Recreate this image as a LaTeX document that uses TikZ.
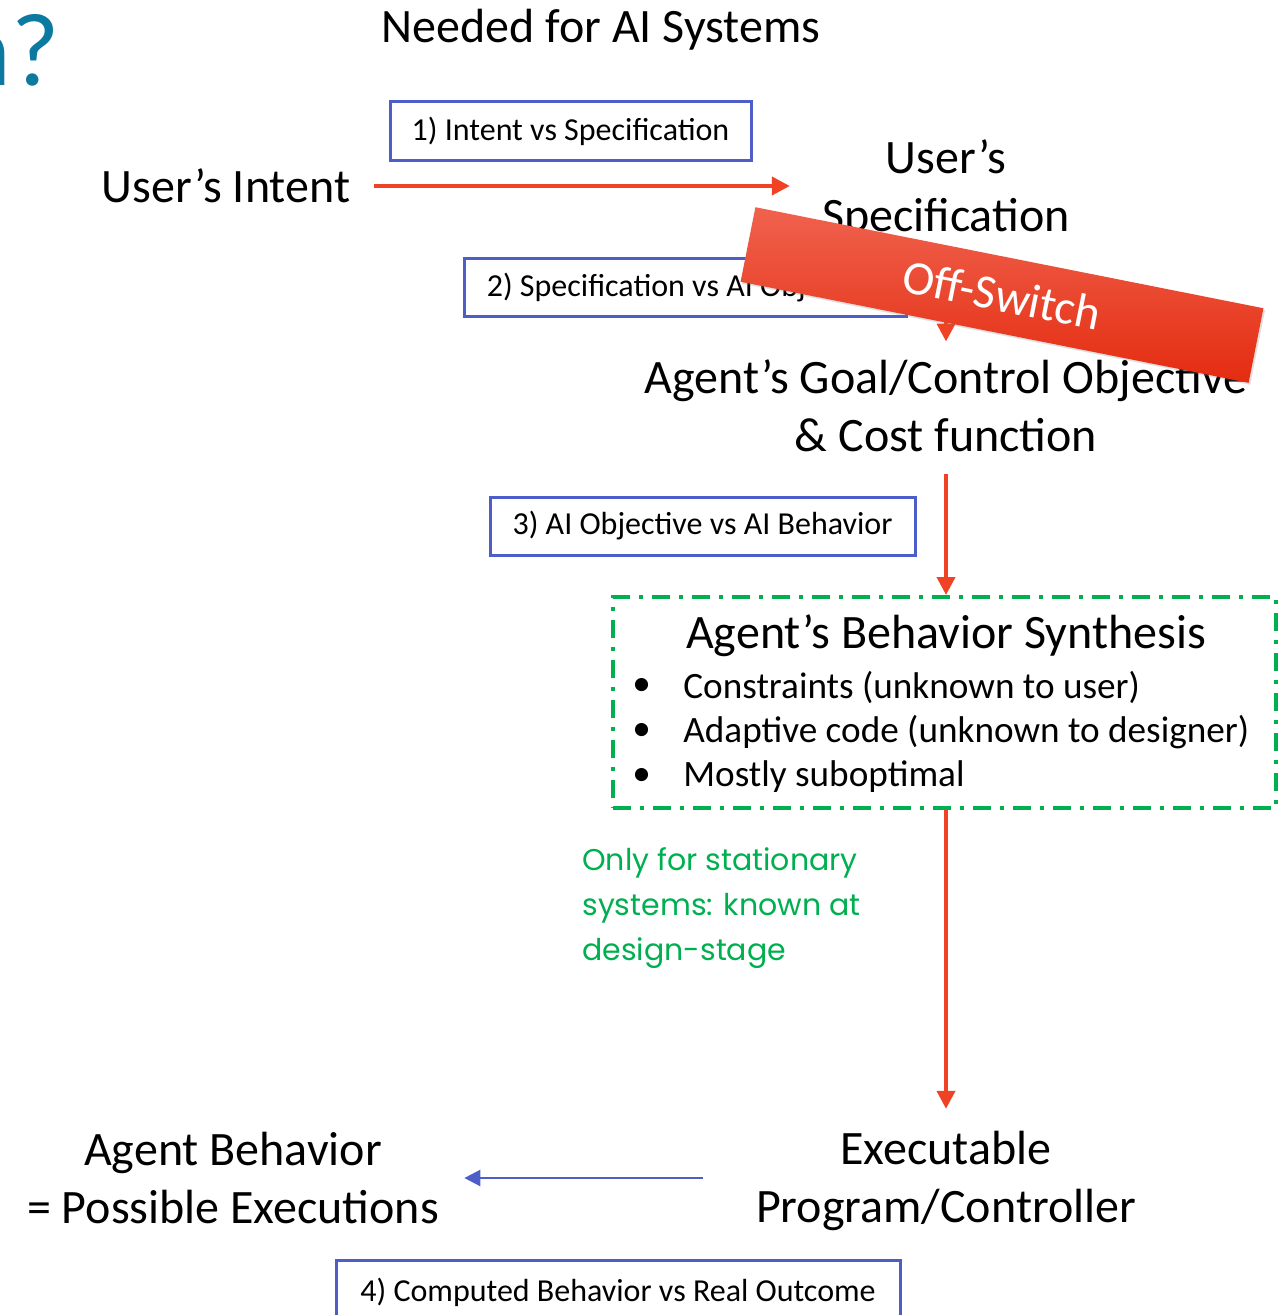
\documentclass[tikz,border=0pt]{standalone}
\usepackage{fontspec}
\setmainfont{Carlito}
\newfontfamily\policeverte{Poppins}
\usetikzlibrary{arrows.meta,shadows}

\definecolor{rougeflux}{RGB}{240,66,36}
\definecolor{bleucadre}{RGB}{78,94,200}
\definecolor{vertsynth}{RGB}{0,176,80}
\definecolor{bleutitre}{RGB}{12,122,160}
\definecolor{bandeauhaut}{RGB}{240,98,78}
\definecolor{bandeaumil}{RGB}{244,58,28}
\definecolor{bandeaubas}{RGB}{228,44,16}

\tikzset{
  grand/.style={font=\fontsize{24}{29}\selectfont, align=center, inner sep=0pt},
  question/.style={draw=bleucadre, line width=1.5pt, font=\fontsize{16}{19}\selectfont, inner sep=0pt},
  puce/.style={font=\fontsize{18.6}{22.5}\selectfont, anchor=west, inner sep=0pt},
  fleche/.style={draw=rougeflux, line width=2pt, -{Triangle[length=9pt,width=9pt]}},
  retour/.style={draw=bleucadre, line width=1.2pt, -{Triangle[length=8pt,width=8pt]}},
  remarque/.style={font=\policeverte\fontsize{15}{22.5}\selectfont, text=vertsynth, align=left, anchor=west, inner sep=0pt}
}

\begin{document}
\begin{tikzpicture}[x=0.5pt,y=-0.5pt]
\useasboundingbox (0,0) rectangle (1279,1315);

%% le titre
\node[anchor=base east, inner sep=0pt, font=\fontsize{52}{60}\selectfont, text=bleutitre] (coin) at (60,86) {n?};
\node[grand] (titre) at (601,30) {Needed for AI Systems};

%% les etapes
\node[grand] (intent) at (226,186) {User’s Intent};
\node[grand] (spec) at (946,189) {User’s\\Specification};
\node[grand] (goal) at (946,406) {Agent’s Goal/Control Objective\\\& Cost function};
\node[grand] (exec) at (946,1181) {Executable\\Program/Controller};
\node[grand] (behav) at (233,1178) {Agent Behavior\\= Possible Executions};

%% le cadre vert de la synthese
\node[draw=vertsynth, line width=2pt, dash pattern=on 9pt off 4.5pt on 2pt off 4.5pt,
  minimum width=331.5pt, minimum height=105.5pt] (synth) at (944.5,702.5) {};
\node[grand] (synthtitre) at (946,636) {Agent’s Behavior Synthesis};
\foreach \y/\t in {687/Constraints (unknown to user), 732/Adaptive code (unknown to designer), 777/Mostly suboptimal} {
  \node[puce] (point\y) at (632,\y) {•};
  \node[puce] (ligne\y) at (683,\y) {\t};
}
\node[remarque] (statio) at (582,908) {Only for stationary\\systems: known at\\design-stage};

%% les questions
\node[question, minimum width=180.5pt, minimum height=29.5pt] (q1) at (570.5,131.5) {1) Intent vs Specification};
\node[question, minimum width=221pt, minimum height=29pt] (q2) at (685,288) {2) Specification vs AI Objective};
\node[question, minimum width=212.5pt, minimum height=29pt] (q3) at (702.5,526) {3) AI Objective vs AI Behavior};
\node[question, minimum width=282pt, minimum height=32pt] (q4) at (618,1292) {4) Computed Behavior vs Real Outcome};

%% les fleches
\draw[fleche, shorten <=12pt, shorten >=16pt] (intent.east) -- (intent.east -| spec.west);
\draw[fleche, shorten <=8pt, shorten >=9pt] (spec.south) -- (goal.north);
\draw[fleche, shorten <=11pt] (goal.south) -- (goal.south |- synth.north);
\draw[fleche, shorten >=11pt] (exec.north |- synth.south) -- (exec.north);
\draw[retour, shorten <=26.5pt, shorten >=12.5pt] (exec.west |- behav.east) -- (behav.east);

%% le bandeau
\node[rotate=-11.25, minimum width=259pt, minimum height=38pt, inner sep=0pt,
  top color=bandeauhaut, middle color=bandeaumil, bottom color=bandeaubas,
  drop shadow={opacity=0.25, shadow xshift=0.8pt, shadow yshift=-1pt},
  text=white, font=\fontsize{24}{28}\selectfont] (coupure) at (1002,295) {Off-Switch};

\end{tikzpicture}
\end{document}
